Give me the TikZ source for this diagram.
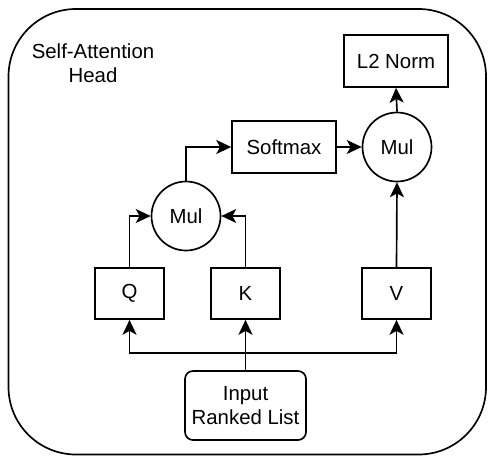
\documentclass[tikz,border=0pt]{standalone}
\usepackage{fontspec}
\setmainfont{Liberation Sans}
\usetikzlibrary{arrows.meta}
\definecolor{headline}{HTML}{000000}

\begin{document}
\begin{tikzpicture}[
  font=\fontsize{11.6}{13.6}\selectfont,
  line width=0.95pt, headline,
  opbox/.style={draw, minimum width=2.08cm, minimum height=1.04cm, inner sep=0pt},
  projbox/.style={draw, minimum width=1.38cm, minimum height=1.02cm, inner sep=0pt},
  mulnode/.style={draw, circle, minimum size=1.38cm, inner sep=0pt},
  flow/.style={-{Stealth[length=8.5pt,width=8pt,inset=2.2pt]}}
]
\useasboundingbox (0,0) rectangle (9.76,-9.12);
\draw[rounded corners=1.35cm] (0.17,-0.18) rectangle (9.72,-9.09);

\node[align=center] (headtitle) at (1.86,-1.27) {Self-Attention\\Head};

\node[opbox] (l2norm) at (7.92,-1.22) {L2 Norm};
\node[opbox] (softmax) at (5.68,-2.94) {Softmax};
\node[mulnode] (mulv) at (7.94,-2.94) {Mul};
\node[mulnode] (mulqk) at (3.72,-4.32) {Mul};

\node[projbox] (q) at (2.59,-5.87) {Q};
\node[projbox] (k) at (4.91,-5.87) {K};
\node[projbox] (v) at (7.93,-5.87) {V};

\node[draw, rounded corners=0.16cm, align=center, minimum width=2.42cm, minimum height=1.38cm,
  inner sep=0pt] (input) at (4.91,-8.11) {Input\\Ranked List};
\coordinate (split) at (4.91,-7.06);

\draw[flow] (input.north) -- (k.south);
\draw[flow] (split) -| (q.south);
\draw[flow] (split) -| (v.south);

\draw[flow] (q.north) |- (mulqk.west);
\draw[flow] (k.north) |- (mulqk.east);
\draw[flow] (mulqk.north) |- (softmax.west);
\draw[flow] (softmax.east) -- (mulv.west);
\draw[flow] (v.north) -- (mulv.south);
\draw[flow] (mulv.north) -- (l2norm.south);
\end{tikzpicture}
\end{document}
